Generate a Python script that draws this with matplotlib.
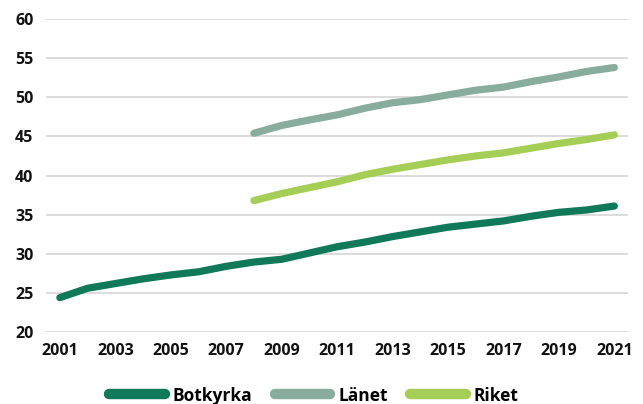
import matplotlib
matplotlib.use("Agg")
import matplotlib.pyplot as plt

font = {"family": "Open Sans", "weight": "bold", "size": 11.5}
matplotlib.rc("font", **font)

years = list(range(2001, 2022))
botkyrka = [24.4, 25.6, 26.2, 26.8, 27.3, 27.7, 28.4, 28.95, 29.3, 30.1,
            30.9, 31.5, 32.2, 32.8, 33.4, 33.8, 34.2, 34.8, 35.3, 35.6, 36.1]
years_lan = list(range(2008, 2022))
lanet = [45.4, 46.4, 47.1, 47.75, 48.6, 49.3, 49.7, 50.3, 50.9, 51.3,
         52.0, 52.6, 53.3, 53.8]
riket = [36.8, 37.7, 38.45, 39.2, 40.1, 40.8, 41.4, 42.0, 42.5, 42.9,
         43.5, 44.1, 44.6, 45.2]
tick_years = list(range(2001, 2022, 2))
y_ticks = [20, 25, 30, 35, 40, 45, 50, 55, 60]

colors = {"Botkyrka": "#10795A", "Länet": "#88AC9D", "Riket": "#A4CE56"}

fig = plt.figure(figsize=(6.43, 4.04), dpi=100)
ax = fig.add_axes([0.0715, 0.178, 0.9055, 0.775])

ax.plot(years, botkyrka, color=colors["Botkyrka"], lw=5.2,
        solid_capstyle="round", label="Botkyrka")
ax.plot(years_lan, lanet, color=colors["Länet"], lw=5.2,
        solid_capstyle="round", label="Länet")
ax.plot(years_lan, riket, color=colors["Riket"], lw=5.2,
        solid_capstyle="round", label="Riket")

ax.set_xlim(2000.5, 2021.5)
ax.set_ylim(20, 60)
ax.set_xticks(tick_years)
ax.set_yticks(y_ticks)
ax.tick_params(axis="both", length=0, colors="#111111")
ax.tick_params(axis="x", pad=8)
ax.tick_params(axis="y", pad=9)
ax.grid(axis="y", color="#D9D9D9", lw=1.3)
ax.set_axisbelow(True)
for s in ax.spines.values():
    s.set_visible(False)

leg = fig.legend(loc="lower center", bbox_to_anchor=(0.488, -0.04), ncol=3,
                 frameon=False, handlelength=3.2, handletextpad=0.45,
                 columnspacing=1.3, prop={"size": 12.5, "weight": "bold"})
for line in leg.get_lines():
    line.set_linewidth(7.5)

fig.savefig("out.png", dpi=100)
